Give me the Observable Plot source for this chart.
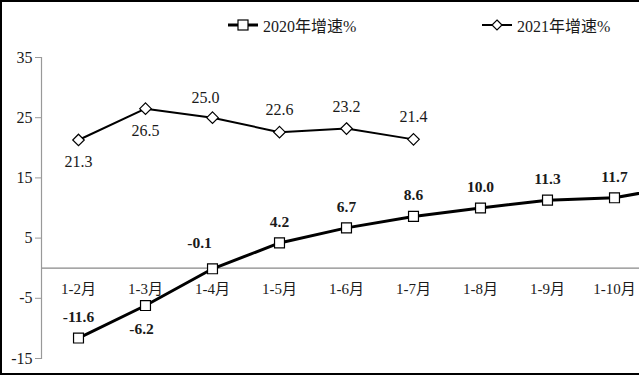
<!DOCTYPE html>
<html><head><meta charset="utf-8">
<script src="https://cdn.jsdelivr.net/npm/d3@7"></script>
<script src="https://cdn.jsdelivr.net/npm/@observablehq/plot@0.6"></script>
<style>
body{margin:0;background:#fff;}
#wrap{position:relative;width:639px;height:376px;overflow:hidden;background:#fff;font-family:"Liberation Serif","Times New Roman","Noto Sans CJK SC",serif;color:#1a1a1a;}
#legend{position:relative;height:45px;}
.item{position:absolute;top:14px;display:flex;align-items:center;font-size:16px;height:22px;white-space:nowrap;}
.item svg{margin-right:5px;}
#chart svg{overflow:hidden;}
#border{position:absolute;left:0;top:0;width:639px;height:375px;border-top:2px solid #000;border-left:2px solid #000;border-bottom:2px solid #000;box-sizing:border-box;pointer-events:none;}
</style></head>
<body>
<div id="wrap">
  <div id="legend"></div>
  <div id="chart"></div>
  <div id="border"></div>
</div>
<script>
const categories = ["1-2月","1-3月","1-4月","1-5月","1-6月","1-7月","1-8月","1-9月","1-10月","1-11月"];
const values2020 = [-11.6,-6.2,-0.1,4.2,6.7,8.6,10.0,11.3,11.7,13.7];
const values2021 = [21.3,26.5,25.0,22.6,23.2,21.4];
const yTicks = [-15,-5,5,15,25,35];
const seriesNames = ["2020年增速%","2021年增速%"];

const d2020 = values2020.map((v,i)=>({cat:categories[i], v, i}));
const d2021 = values2021.map((v,i)=>({cat:categories[i], v, i}));
// the chart is cropped on the right: 1-11月 lies beyond the visible edge
const visible = 9;

// legend
const legend = document.getElementById("legend");
function legendItem(left, name, thick, symbolSvg){
  const div = document.createElement("div");
  div.className = "item";
  div.style.left = left + "px";
  div.innerHTML = `<svg width="30" height="14"><line x1="0" x2="30" y1="7" y2="7" stroke="#000" stroke-width="${thick}"/>${symbolSvg}</svg><span>${name}</span>`;
  legend.appendChild(div);
}
legendItem(228, seriesNames[0], 3, `<rect x="10" y="2" width="10" height="10" fill="#fff" stroke="#000" stroke-width="1.2"/>`);
legendItem(482, seriesNames[1], 2, `<path d="M15,2L20,7L15,12L10,7Z" fill="#fff" stroke="#000" stroke-width="1.2"/>`);

const fmt = v => v.toFixed(1);
const lab2020 = d2020.filter(d => d.i < visible);
const chart = Plot.plot({
  width: 639,
  height: 331,
  marginTop: 12,
  marginBottom: 18,
  marginLeft: 41,
  marginRight: 0,
  style: {fontFamily: '"Liberation Serif","Times New Roman","Noto Sans CJK SC",serif', fontSize: "16px", background: "white", color: "#1a1a1a", overflow: "hidden"},
  x: {type: "point", domain: categories, range: [76, 683.5], padding: 0, axis: null},
  y: {domain: [-15, 35], axis: null},
  marks: [
    Plot.ruleY([0], {stroke: "#888", strokeWidth: 1.2}),
    Plot.frame({anchor: "left", stroke: "#999", strokeWidth: 1.2}),
    Plot.axisY(yTicks, {tickSize: 6, tickPadding: 3, stroke: "#999", fill: "#1a1a1a", fontSize: 16, tickFormat: d => String(d), label: null}),
    Plot.text(categories.slice(0, visible), {x: d => d, y: 0, dy: 21, text: d => d, fontSize: 15, fill: "#1a1a1a"}),
    Plot.line(d2020, {x: "cat", y: "v", stroke: "#000", strokeWidth: 3}),
    Plot.dot(d2020, {x: "cat", y: "v", symbol: "square", r: 5.6, fill: "white", stroke: "#000", strokeWidth: 1.2}),
    Plot.line(d2021, {x: "cat", y: "v", stroke: "#000", strokeWidth: 2}),
    Plot.dot(d2021, {x: "cat", y: "v", symbol: "diamond2", r: 5.2, fill: "white", stroke: "#000", strokeWidth: 1.2}),
    // 2021 labels
    Plot.text(d2021.filter(d => d.i < 2), {x: "cat", y: "v", text: d => fmt(d.v), dy: 22, fontSize: 16}),
    Plot.text(d2021.filter(d => d.i === 2), {x: "cat", y: "v", text: d => fmt(d.v), dy: -20, dx: -7, fontSize: 16}),
    Plot.text(d2021.filter(d => d.i > 2), {x: "cat", y: "v", text: d => fmt(d.v), dy: -22, fontSize: 16}),
    // 2020 labels
    Plot.text(lab2020.filter(d => d.i === 1), {x: "cat", y: "v", text: d => fmt(d.v), dy: 24, dx: -4, fontSize: 15.5, fontWeight: "bold"}),
    Plot.text(lab2020.filter(d => d.i === 2), {x: "cat", y: "v", text: d => fmt(d.v), dy: -26, dx: -13, fontSize: 15.5, fontWeight: "bold"}),
    Plot.text(lab2020.filter(d => d.i !== 1 && d.i !== 2), {x: "cat", y: "v", text: d => fmt(d.v), dy: -21, fontSize: 15.5, fontWeight: "bold"})
  ]
});
document.getElementById("chart").appendChild(chart);
</script>
</body></html>
